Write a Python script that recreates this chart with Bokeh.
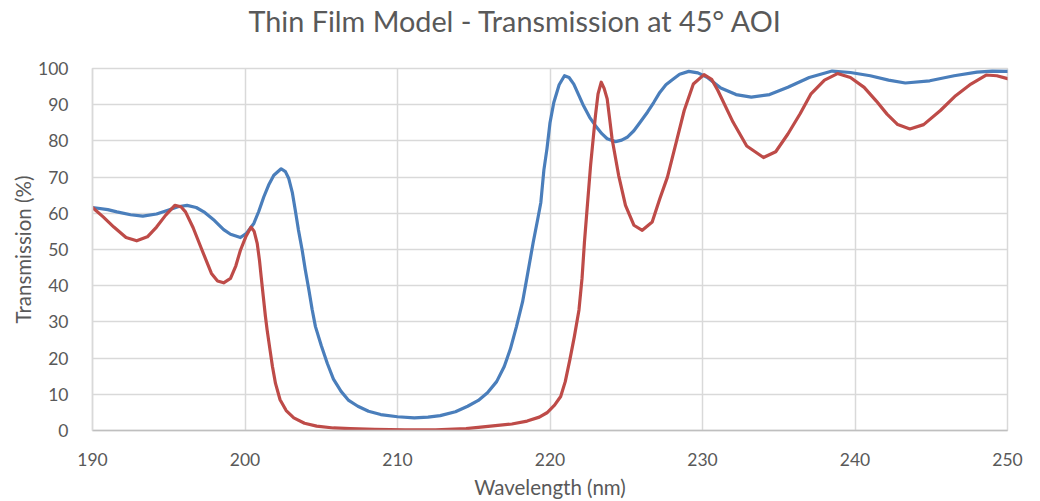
from bokeh.plotting import figure
from bokeh.models import Range1d, FixedTicker, Title
from bokeh.embed import file_html
from bokeh.resources import INLINE

# ---- data ----
blue_wl = [190.0, 191.0, 191.6, 192.5, 193.3, 194.2, 194.9, 195.6, 196.2, 196.8, 197.3, 198.0, 198.6,
           199.05, 199.7, 200.1, 200.58, 200.9, 201.23, 201.55, 201.89, 202.37, 202.65, 202.87, 203.1,
           203.3, 203.5, 203.75, 203.95, 204.19, 204.4, 204.62, 205.0, 205.4, 205.8, 206.3, 206.8,
           207.4, 208.1, 208.9, 210.0, 211.1, 212.0, 212.8, 213.8, 214.6, 215.3, 215.9, 216.5, 217.0,
           217.4, 217.8, 218.2, 218.5, 218.9, 219.2, 219.4, 219.6, 219.8, 220.0, 220.25, 220.6, 220.95,
           221.25, 221.56, 221.9, 222.2, 222.6, 222.98, 223.4, 223.75, 224.3, 224.7, 225.06, 225.5,
           225.9, 226.4, 226.8, 227.2, 227.6, 228.0, 228.5, 229.1, 229.7, 230.3, 231.2, 232.2, 233.2,
           234.4, 235.6, 237.0, 238.5, 239.7, 241.0, 242.2, 243.3, 244.9, 246.5, 248.0, 249.0, 250.0]
blue_t = [61.6, 61.0, 60.4, 59.6, 59.2, 59.8, 60.8, 61.8, 62.2, 61.6, 60.4, 58.0, 55.5,
          54.2, 53.3, 54.5, 57.2, 60.5, 64.5, 67.8, 70.5, 72.3, 71.5, 69.6, 65.8,
          60.8, 55.5, 49.8, 44.5, 38.8, 33.5, 28.7, 23.5, 18.5, 14.2, 10.8, 8.3,
          6.7, 5.3, 4.4, 3.8, 3.5, 3.7, 4.1, 5.2, 6.7, 8.3, 10.4, 13.5, 17.7,
          22.5, 28.7, 35.5, 42.5, 52.0, 58.5, 63.0, 72.0, 77.8, 85.0, 90.6, 95.5, 98.0,
          97.5, 95.7, 92.5, 89.7, 86.5, 84.2, 82.0, 80.6, 79.8, 80.2, 81.0, 82.8,
          85.1, 88.0, 90.6, 93.4, 95.5, 96.8, 98.4, 99.2, 98.8, 97.6, 94.6, 92.8, 92.1,
          92.8, 94.8, 97.5, 99.3, 98.9, 98.0, 96.8, 96.0, 96.6, 98.0, 99.0, 99.3, 99.2]

red_wl = [190.0, 190.7, 191.4, 192.2, 192.9, 193.6, 194.2, 194.8, 195.4, 195.8, 196.1, 196.6, 197.1,
          197.5, 197.8, 198.2, 198.6, 199.05, 199.4, 199.7, 200.05, 200.4, 200.6, 200.8, 200.95,
          201.06, 201.2, 201.34, 201.45, 201.65, 201.8, 202.0, 202.3, 202.7, 203.2, 203.9, 204.7,
          205.8, 206.9, 208.5, 210.5, 212.5, 214.5, 216.1, 217.5, 218.5, 219.3, 219.8, 220.3, 220.7,
          221.0, 221.3, 221.6, 221.9, 222.1, 222.26, 222.4, 222.66, 222.98, 223.15, 223.36, 223.55,
          223.75, 223.9, 224.07, 224.5, 224.95, 225.5, 226.05, 226.7, 227.2, 227.7, 228.3, 228.8,
          229.4, 230.1, 230.6, 231.0, 232.0, 232.9, 234.0, 234.8, 235.6, 236.4, 237.1, 238.0, 238.85,
          239.7, 240.6, 241.4, 242.1, 242.8, 243.6, 244.5, 245.6, 246.6, 247.6, 248.6, 249.3, 250.0]
red_t = [61.6, 59.0, 56.2, 53.3, 52.4, 53.5, 56.2, 59.5, 62.2, 61.8, 60.4, 56.0, 50.7,
         46.5, 43.4, 41.3, 40.8, 42.0, 45.5, 49.8, 53.5, 56.2, 55.0, 51.7, 47.0,
         42.5, 37.0, 31.5, 27.8, 22.0, 17.7, 13.0, 8.5, 5.5, 3.5, 2.0, 1.2,
         0.7, 0.5, 0.3, 0.2, 0.2, 0.5, 1.2, 1.8, 2.6, 3.7, 4.9, 7.0, 9.4,
         13.5, 19.5, 26.0, 33.3, 42.0, 52.1, 59.5, 73.2, 87.0, 93.0, 96.2, 94.5,
         91.6, 86.5, 80.6, 70.5, 62.2, 56.7, 55.3, 57.6, 64.0, 70.0, 80.0, 88.4,
         95.7, 98.3, 97.0, 94.0, 85.2, 78.6, 75.4, 77.0, 81.9, 87.5, 92.9, 96.8, 98.6,
         97.5, 94.8, 91.0, 87.4, 84.5, 83.3, 84.5, 88.4, 92.5, 95.7, 98.2, 98.0, 97.2]

x_ticks = [190, 200, 210, 220, 230, 240, 250]
y_ticks = [0, 10, 20, 30, 40, 50, 60, 70, 80, 90, 100]

title_text = "Thin Film Model - Transmission at 45° AOI"
x_label = "Wavelength (nm)"
y_label = "Transmission (%)"

FONT = "Lato"
TXT = "#595959"
GRID = "#d9d9d9"

p = figure(width=1040, height=501, output_backend="svg", toolbar_location=None,
           x_range=Range1d(190, 250), y_range=Range1d(0, 100),
           title=title_text)
p.min_border_left = 92
p.min_border_right = 33
p.min_border_top = 68
p.min_border_bottom = 70
p.outline_line_color = GRID
p.outline_line_width = 1.5
p.background_fill_color = "white"
p.border_fill_color = "white"

# blank spacer panel between the frame and the title
p.add_layout(Title(text=" ", text_font_size="12px", standoff=13), "above")

p.title.text_font = FONT
p.title.text_font_size = "28.8px"
p.title.text_font_style = "normal"
p.title.text_color = TXT
p.title.align = "left"
p.title.vertical_align = "top"
p.title.offset = 156
p.title.standoff = 0

for ax in (p.xaxis[0], p.yaxis[0]):
    ax.major_tick_line_color = None
    ax.minor_tick_line_color = None
    ax.major_label_text_font = FONT
    ax.major_label_text_font_size = "17.5px"
    ax.major_label_text_color = TXT
    ax.axis_label_text_font = FONT
    ax.axis_label_text_font_size = "20.5px"
    ax.axis_label_text_font_style = "normal"
    ax.axis_label_text_color = TXT

p.xaxis[0].ticker = FixedTicker(ticks=x_ticks)
p.yaxis[0].ticker = FixedTicker(ticks=y_ticks)
p.xaxis[0].axis_label = x_label
p.yaxis[0].axis_label = y_label
p.xaxis[0].axis_line_color = "#bfbfbf"
p.xaxis[0].axis_line_width = 1.5
p.yaxis[0].axis_line_color = GRID
p.yaxis[0].axis_line_width = 1.5
p.xaxis[0].major_label_standoff = 16
p.yaxis[0].major_label_standoff = 18
p.xaxis[0].axis_label_standoff = 6
p.yaxis[0].axis_label_standoff = 0

p.xgrid[0].ticker = FixedTicker(ticks=x_ticks)
p.ygrid[0].ticker = FixedTicker(ticks=y_ticks)
for g in (p.xgrid[0], p.ygrid[0]):
    g.grid_line_color = GRID
    g.grid_line_width = 1.5

p.line(blue_wl, blue_t, line_color="#4a7ebb", line_width=3.2, line_join="round", line_cap="round")
p.line(red_wl, red_t, line_color="#be4b48", line_width=3.2, line_join="round", line_cap="round")

open("out.html", "w").write(file_html(p, INLINE))
